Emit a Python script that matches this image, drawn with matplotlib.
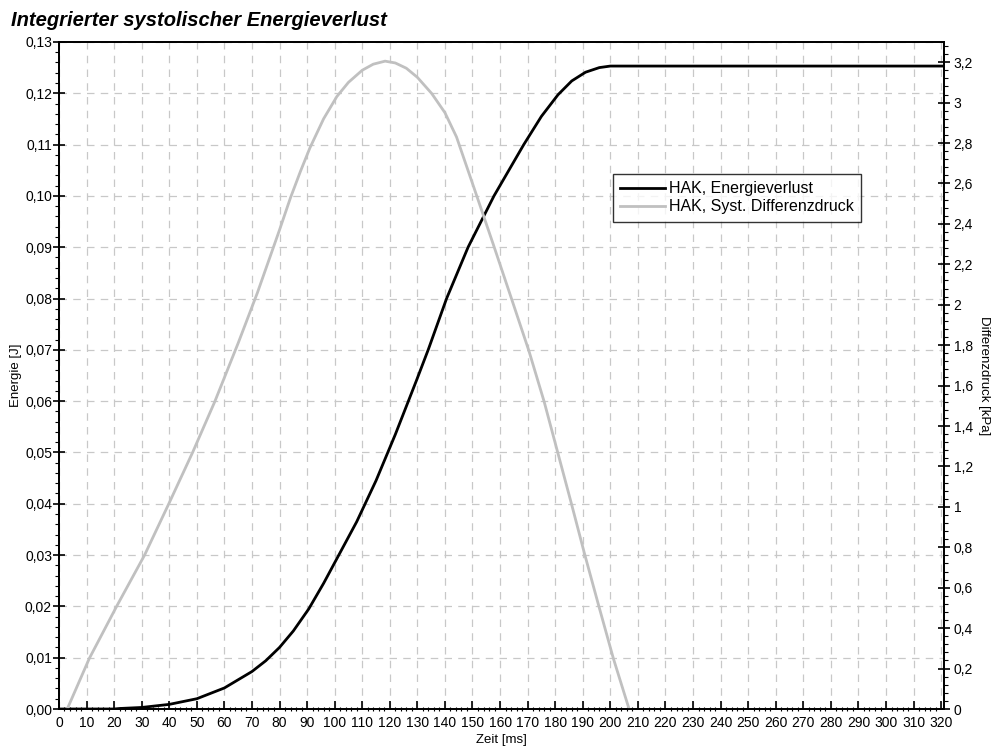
import matplotlib.pyplot as plt
from matplotlib.ticker import MultipleLocator, FuncFormatter

plt.rcParams['font.family'] = ['Liberation Sans', 'DejaVu Sans']

# Energieverlust (linke Achse, J)
zeit_energie = [0, 20, 22, 30, 40, 50, 60, 70, 75, 80, 85, 90.6, 96, 101.5, 108, 115,
                122, 129.8, 134, 140.6, 148.4, 157.8, 168.6, 175, 181, 186, 191, 196,
                200, 203, 321]
energie = [0, 0, 0.0001, 0.0003, 0.0009, 0.002, 0.0041, 0.0073, 0.0094, 0.0120,
           0.0152, 0.0195, 0.0245, 0.03, 0.0365, 0.0445, 0.0535, 0.0642, 0.0701,
           0.08, 0.09, 0.10, 0.11, 0.1155, 0.1197, 0.1224, 0.1241, 0.1250, 0.1253,
           0.1253, 0.1253]

# Systolischer Differenzdruck (rechte Achse, kPa)
zeit_druck = [3, 11, 21, 31, 40, 48.5, 56.5, 65, 72, 80, 84, 87.6, 91, 96, 100.8, 105,
              110, 114, 118.3, 122, 126, 130, 135.2, 140, 144.2, 150.5, 157.5,
              163.9, 170.5, 176, 180.7, 185.8, 190.6, 195.8, 201.1, 206.8]
druck = [0, 0.25, 0.51, 0.76, 1.02, 1.27, 1.52, 1.81, 2.06, 2.37, 2.53, 2.66, 2.775,
         2.92, 3.03, 3.10, 3.16, 3.19, 3.205, 3.196, 3.17, 3.125, 3.045, 2.95, 2.83,
         2.58, 2.30, 2.04, 1.77, 1.52, 1.28, 1.02, 0.77, 0.51, 0.25, 0]

fig = plt.figure(figsize=(9.91, 7.49), dpi=100)
ax = fig.add_axes([0.0595, 0.0534, 0.893, 0.8906])
ax2 = ax.twinx()

l1, = ax.plot(zeit_energie, energie, color='black', lw=2, solid_joinstyle='round',
              label='HAK, Energieverlust')
l2, = ax2.plot(zeit_druck, druck, color='#c0c0c0', lw=2, solid_joinstyle='round',
               label='HAK, Syst. Differenzdruck')

ax.set_xlim(0, 321)
ax.set_ylim(0, 0.13)
ax2.set_ylim(0, 3.3)

ax.xaxis.set_major_locator(MultipleLocator(10))
ax.xaxis.set_minor_locator(MultipleLocator(2))
ax.yaxis.set_major_locator(MultipleLocator(0.01))
ax.yaxis.set_minor_locator(MultipleLocator(0.002))
ax2.yaxis.set_major_locator(MultipleLocator(0.2))
ax2.yaxis.set_minor_locator(MultipleLocator(0.04))

ax.yaxis.set_major_formatter(FuncFormatter(lambda v, p: f"{v:.2f}".replace('.', ',')))
ax2.yaxis.set_major_formatter(FuncFormatter(lambda v, p: f"{round(v, 2):g}".replace('.', ',')))
ax.xaxis.set_major_formatter(FuncFormatter(lambda v, p: f"{v:.0f}"))

ax.grid(True, which='major', color='#c8c8c8', linestyle=(0, (6, 5)), lw=0.9)
ax.set_axisbelow(True)

ax.tick_params(axis='x', which='major', direction='in', length=6, width=1.2, labelsize=10, pad=5)
ax.tick_params(axis='x', which='minor', direction='inout', length=3, width=0.8)
ax.tick_params(axis='y', which='major', direction='inout', length=8, width=1.2, labelsize=10, pad=1)
ax.tick_params(axis='y', which='minor', direction='out', length=3, width=0.8)
ax2.tick_params(axis='y', which='major', direction='inout', length=8, width=1.2, labelsize=10, pad=3)
ax2.tick_params(axis='y', which='minor', direction='out', length=3, width=0.8)

for a in (ax, ax2):
    for s in a.spines.values():
        s.set_linewidth(1.3)

ax.set_xlabel('Zeit [ms]', fontsize=9.5, labelpad=3)
ax.set_ylabel('Energie [J]', fontsize=9.5, labelpad=2)
ax2.set_ylabel('Differenzdruck [kPa]', fontsize=9.5, rotation=-90, labelpad=12)

fig.text(0.011, 0.973, 'Integrierter systolischer Energieverlust', fontsize=14.5,
         fontweight='bold', fontstyle='italic', va='center', ha='left')

leg = ax2.legend(handles=[l1, l2], loc='upper left', bbox_to_anchor=(0.626, 0.802),
                 fontsize=11.5, frameon=True, fancybox=False, handlelength=2.8,
                 borderpad=0.45, labelspacing=0.2, handletextpad=0.25, borderaxespad=0)
leg.get_frame().set_edgecolor('black')
leg.get_frame().set_linewidth(1)

fig.savefig('out.png', dpi=100)
